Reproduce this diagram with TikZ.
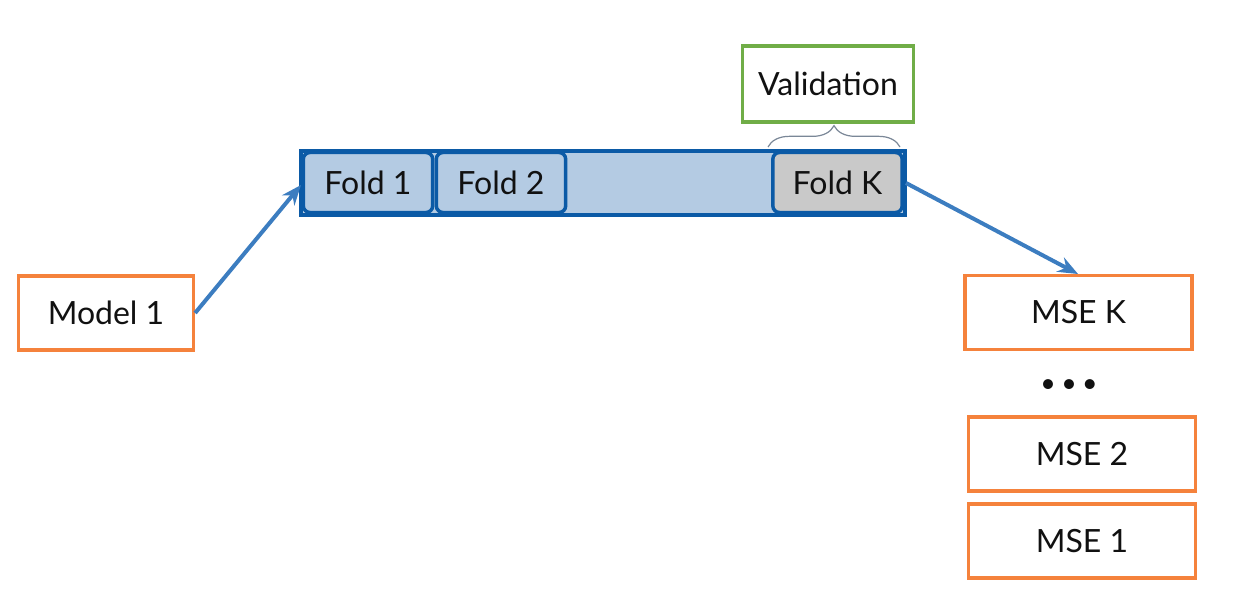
\documentclass[tikz,border=0pt]{standalone}
\usepackage{fontspec}
\setmainfont{Lato}
\usetikzlibrary{decorations.pathreplacing,arrows.meta}
\definecolor{barblue}{HTML}{0B5AA6}
\definecolor{lightblue}{HTML}{B4CBE3}
\definecolor{foldgray}{HTML}{C9C9C9}
\definecolor{orangeb}{HTML}{F5823C}
\definecolor{greenb}{HTML}{70AD47}
\definecolor{arrowblue}{HTML}{3C7DC0}
\definecolor{bracegray}{HTML}{7A8797}
\definecolor{textcol}{HTML}{111111}
\tikzset{
  lbl/.style={font=\fontsize{24}{28}\selectfont, text=textcol},
  orangebox/.style={lbl, draw=orangeb, line width=2.7pt, fill=white, minimum width=#1, minimum height=55.5pt, inner sep=0pt},
  foldbox/.style={lbl, draw=barblue, line width=2.6pt, rounded corners=5pt, minimum width=97pt, minimum height=45pt, inner sep=0pt},
  conn/.style={draw=arrowblue, line width=3pt, -{Stealth[length=15pt,width=12pt,inset=5pt]}},
}
\begin{document}
\begin{tikzpicture}[x=0.75pt,y=-0.75pt]
\useasboundingbox (0,0) rectangle (1239,610);
% bar
\node[draw=barblue, line width=3.4pt, fill=lightblue, minimum width=453pt, minimum height=48pt, inner sep=0pt] (bar) at (603,183) {};
\node[foldbox, fill=lightblue] (f1) at (368,182.5) {Fold 1};
\node[foldbox, fill=lightblue] (f2) at (501,182.5) {Fold 2};
\node[foldbox, fill=foldgray] (fk) at (837.5,182.5) {Fold K};
% validation
\node[lbl, draw=greenb, line width=2.7pt, fill=white, minimum width=128pt, minimum height=57pt, inner sep=0pt] (val) at (828,84) {Validation};
\coordinate (bl) at (768,147);
\coordinate (br) at (900,147);
\draw[bracegray, line width=0.9pt, decorate, decoration={brace, amplitude=16pt}] (bl) -- (br);
% model
\node[orangebox=131pt] (m1) at (106,313) {Model 1};
% MSE
\node[orangebox=170pt] (msek) at (1078.5,312.5) {MSE K};
\node[lbl, font=\fontsize{20}{24}\selectfont] (dots) at (1069,386) {\textbullet\hspace{4pt}\textbullet\hspace{4pt}\textbullet};
\node[orangebox=170pt] (mse2) at (1082,454) {MSE 2};
\node[orangebox=170pt] (mse1) at (1082,541) {MSE 1};
% connectors
\coordinate (a1) at (301,185);
\draw[conn] (m1.east) -- (a1);
\coordinate (a2s) at (906,183);
\coordinate (a2e) at (1078,274);
\draw[conn] (a2s) -- (a2e);
\end{tikzpicture}
\end{document}
